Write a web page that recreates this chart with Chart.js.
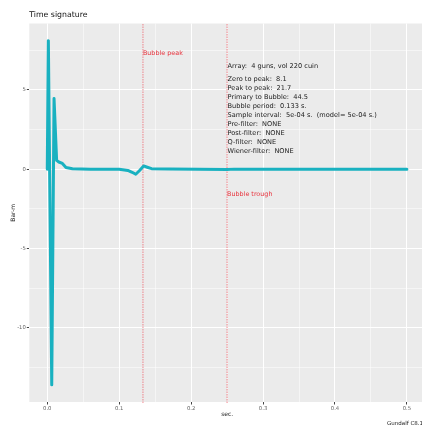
<!DOCTYPE html>
<html lang="en">
<head>
  <meta charset="UTF-8" />
  <title>Time signature</title>
  <script src="https://cdn.jsdelivr.net/npm/chart.js"></script>
  <style>
    body {
      margin: 0;
      background: #ffffff;
    }
    canvas {
      display: block;
    }
  </style>
</head>
<body>
  <canvas id="sigChart" width="422" height="430"></canvas>

  <script>
    // signature (time in s, amplitude in bar-m)
    const timeSec = [0, 0.0015, 0.0062, 0.0094, 0.013, 0.016, 0.021, 0.026, 0.035, 0.06, 0.1, 0.112, 0.118, 0.123, 0.128, 0.134, 0.139, 0.145, 0.17, 0.25, 0.26, 0.5];
    const barM = [0, 8.1, -13.6, 4.45, 0.55, 0.45, 0.36, 0.1, 0.02, 0.0, -0.01, -0.08, -0.2, -0.32, -0.1, 0.2, 0.12, 0.03, 0.01, -0.02, 0.0, 0.0];

    const xMajor = [0, 0.1, 0.2, 0.3, 0.4, 0.5];
    const xMinor = [0.05, 0.15, 0.25, 0.35, 0.45];
    const yMajor = [-10, -5, 0, 5];
    const yMinor = [-12.5, -7.5, -2.5, 2.5, 7.5];

    const markerTimes = [0.133, 0.25];
    const markerNames = ['Bubble peak', 'Bubble trough'];
    const markerLabelY = [7.3, -1.6];

    const infoHead = 'Array:  4 guns, vol 220 cuin';
    const infoLines = [
      'Zero to peak:  8.1',
      'Peak to peak:  21.7',
      'Primary to Bubble:  44.5',
      'Bubble period:  0.133 s.',
      'Sample interval:  5e-04 s.  (model= 5e-04 s.)',
      'Pre-filter:  NONE',
      'Post-filter:  NONE',
      'Q-filter:  NONE',
      'Wiener-filter:  NONE'
    ];

    const FONT = "'DejaVu Sans', sans-serif";
    const isMajor = (list, v) => list.some(m => Math.abs(m - v) < 1e-9);

    const ggPanel = {
      id: 'ggPanel',
      beforeDraw(chart) {
        const { ctx, chartArea: a } = chart;
        ctx.save();
        ctx.fillStyle = '#ebebeb';
        ctx.fillRect(a.left, a.top, a.right - a.left, a.bottom - a.top);
        ctx.restore();
      },
      beforeDatasetsDraw(chart) {
        // dotted vertical markers, drawn as small dots
        const { ctx, chartArea: a, scales } = chart;
        ctx.save();
        ctx.fillStyle = 'rgba(240, 95, 105, 0.5)';
        markerTimes.forEach(t => {
          const x = scales.x.getPixelForValue(t);
          for (let y = Math.ceil(a.top); y < a.bottom; y += 2.5) {
            ctx.fillRect(x - 0.75, y, 1.5, 1.5);
          }
        });
        ctx.restore();
      },
      afterDraw(chart) {
        const { ctx, chartArea: a, scales } = chart;
        ctx.save();
        ctx.textBaseline = 'middle';

        // title
        ctx.fillStyle = '#111';
        ctx.font = '7.8px ' + FONT;
        ctx.textAlign = 'left';
        ctx.fillText('Time signature', a.left, 15);

        // marker labels
        ctx.fillStyle = '#e8323c';
        ctx.font = '6.4px ' + FONT;
        markerNames.forEach((name, i) => {
          ctx.fillText(name, scales.x.getPixelForValue(markerTimes[i]), scales.y.getPixelForValue(markerLabelY[i]));
        });

        // info block
        ctx.fillStyle = '#222';
        ctx.font = '6.6px ' + FONT;
        const infoX = scales.x.getPixelForValue(0.25) + 0.5;
        ctx.fillText(infoHead, infoX, scales.y.getPixelForValue(6.5));
        const y0 = scales.y.getPixelForValue(5.66);
        infoLines.forEach((line, i) => ctx.fillText(line, infoX, y0 + i * 9));

        // axis titles
        ctx.fillStyle = '#222';
        ctx.font = '6px ' + FONT;
        ctx.textAlign = 'center';
        ctx.fillText('sec.', (a.left + 425) / 2, 414);
        ctx.save();
        ctx.translate(13, (a.top + a.bottom) / 2);
        ctx.rotate(-Math.PI / 2);
        ctx.fillText('Bar-m', 0, 0);
        ctx.restore();

        // caption
        ctx.font = '5.5px ' + FONT;
        ctx.textAlign = 'right';
        ctx.fillText('Gundalf C8.1', 423, 424);
        ctx.restore();
      }
    };

    new Chart(document.getElementById('sigChart'), {
      type: 'line',
      data: {
        datasets: [{
          data: timeSec.map((t, i) => ({ x: t, y: barM[i] })),
          borderColor: '#19b1c0',
          borderWidth: 3,
          borderJoinStyle: 'round',
          borderCapStyle: 'round',
          pointRadius: 0,
          tension: 0,
          fill: false
        }]
      },
      options: {
        responsive: false,
        devicePixelRatio: 1,
        animation: false,
        layout: { padding: { top: 23.5, left: 0, right: 0, bottom: 0 } },
        plugins: {
          legend: { display: false },
          title: { display: false },
          tooltip: { enabled: false }
        },
        scales: {
          x: {
            type: 'linear',
            min: -0.025,
            max: 0.521,
            afterBuildTicks: s => {
              s.ticks = [...xMajor, ...xMinor].sort((p, q) => p - q).map(v => ({ value: v }));
            },
            afterFit: s => { s.height = 28; },
            border: { display: false },
            grid: {
              color: '#ffffff',
              lineWidth: c => isMajor(xMajor, c.tick.value) ? 1 : 0.5,
              tickColor: c => isMajor(xMajor, c.tick.value) ? '#444' : 'rgba(0,0,0,0)',
              tickLength: 2.5
            },
            ticks: {
              autoSkip: false,
              maxRotation: 0,
              padding: 0.5,
              color: '#666',
              font: { family: FONT, size: 5.3 },
              callback: v => isMajor(xMajor, v) ? v.toFixed(1) : ''
            }
          },
          y: {
            min: -14.68,
            max: 9.18,
            afterBuildTicks: s => {
              s.ticks = [...yMajor, ...yMinor].sort((p, q) => p - q).map(v => ({ value: v }));
            },
            afterFit: s => { s.width = 29.3; },
            border: { display: false },
            grid: {
              color: '#ffffff',
              lineWidth: c => isMajor(yMajor, c.tick.value) ? 1 : 0.5,
              tickColor: c => isMajor(yMajor, c.tick.value) ? '#444' : 'rgba(0,0,0,0)',
              tickLength: 2.5
            },
            ticks: {
              autoSkip: false,
              padding: 1,
              color: '#666',
              font: { family: FONT, size: 5.3 },
              callback: v => isMajor(yMajor, v) ? String(v) : ''
            }
          }
        }
      },
      plugins: [ggPanel]
    });
  </script>
</body>
</html>
